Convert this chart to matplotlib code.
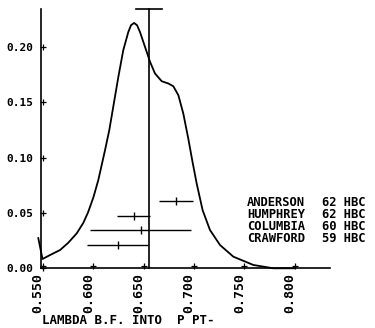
import matplotlib
matplotlib.use("Agg")
import matplotlib.pyplot as plt
import matplotlib.transforms as mtransforms

# distribution curve (lambda vs probability)
curve_x = [0.5453, 0.5495, 0.557, 0.5669, 0.575, 0.5835, 0.590, 0.5947, 0.600,
           0.6049, 0.6116, 0.6158, 0.6192, 0.6248, 0.6297, 0.6347, 0.6374, 0.6404,
           0.6434, 0.6463, 0.6513, 0.6563, 0.6612, 0.6679, 0.6744, 0.6794, 0.6844,
           0.6893, 0.6943, 0.6985, 0.7026, 0.7085, 0.7158, 0.7258, 0.739, 0.7589,
           0.7788, 0.800]
curve_y = [0.0273, 0.0084, 0.012, 0.0165, 0.023, 0.0316, 0.041, 0.0505, 0.064,
           0.0797, 0.1068, 0.1248, 0.1429, 0.1729, 0.197, 0.2135, 0.2196, 0.2217,
           0.2196, 0.2135, 0.200, 0.1865, 0.176, 0.169, 0.167, 0.1645, 0.1564,
           0.1399, 0.117, 0.096, 0.0766, 0.0525, 0.0346, 0.0210, 0.0105, 0.003,
           0.0, 0.0]

# measurements with horizontal error bars
meas_names = ["ANDERSON", "HUMPHREY", "COLUMBIA", "CRAWFORD"]
meas_counts = [62, 62, 60, 59]
meas_x = [0.682, 0.640, 0.647, 0.624]
meas_err = [0.0166, 0.0164, 0.050, 0.0306]
meas_y = [0.0607, 0.0475, 0.0346, 0.0215]

# vertical reference line with cap
ref_x = 0.655
ref_top = 0.234
ref_half = 0.013

xticks = [0.550, 0.600, 0.650, 0.700, 0.750, 0.800]
yticks = [0.00, 0.05, 0.10, 0.15, 0.20]

font = "DejaVu Sans Mono"

fig = plt.figure(figsize=(3.75, 3.28), dpi=100)
ax = fig.add_axes([40.7 / 375, 1 - 268.3 / 328, (330 - 40.7) / 375, (268.3 - 9.3) / 328])
x0, x1 = 0.5477, 0.8350
ax.set_xlim(x0, x1)
ax.set_ylim(0, 0.234)

ax.plot(curve_x, curve_y, color="black", lw=1.3, clip_on=False,
        solid_joinstyle="round")
ax.errorbar(meas_x, meas_y, xerr=meas_err, fmt="|", color="black",
            ms=6, mew=1.0, elinewidth=1.0, capsize=0)
ax.plot([ref_x, ref_x], [0, ref_top], color="black", lw=1.2, clip_on=False)
ax.plot([ref_x - ref_half, ref_x + ref_half], [ref_top, ref_top],
        color="black", lw=1.2, clip_on=False)

for s in ["top", "right"]:
    ax.spines[s].set_visible(False)
for s in ["left", "bottom"]:
    ax.spines[s].set_linewidth(1.2)

# plus-shaped tick marks just inside the axes
tr_y = mtransforms.offset_copy(ax.transData, fig, x=2.6, y=0, units="dots")
tr_x = mtransforms.offset_copy(ax.transData, fig, x=0, y=2.0, units="dots")
ax.plot([x0] * len(yticks), yticks, "+", color="black", ms=4.5, mew=0.9,
        transform=tr_y, clip_on=False)
ax.plot(xticks, [0] * len(xticks), "+", color="black", ms=4.5, mew=0.9,
        transform=tr_x, clip_on=False)

ax.set_xticks(xticks)
ax.set_xticklabels(["%.3f" % v for v in xticks], rotation=90, va="top",
                   fontfamily=font, fontweight="bold", fontsize=9.5)
ax.set_yticks(yticks)
ax.set_yticklabels(["%.2f" % v for v in yticks],
                   fontfamily=font, fontweight="bold", fontsize=8)
ax.tick_params(axis="both", length=0)
ax.tick_params(axis="x", pad=3.5)
ax.tick_params(axis="y", pad=5)

shift = mtransforms.ScaledTranslation(-0.05, 0, fig.dpi_scale_trans)
for lab in ax.get_xticklabels():
    lab.set_transform(lab.get_transform() + shift)

# legend block
rows = [202, 214, 226, 238.5]
for name, cnt, r in zip(meas_names, meas_counts, rows):
    fig.text(247 / 375, 1 - r / 328, name, ha="left", va="center",
             fontfamily=font, fontweight="bold", fontsize=8.7)
    fig.text(322 / 375, 1 - r / 328, "%d HBC" % cnt, ha="left", va="center",
             fontfamily=font, fontweight="bold", fontsize=8.7)

fig.text(42 / 375, 1 - 327 / 328, "LAMBDA B.F. INTO  P PT-", ha="left", va="bottom",
         fontfamily=font, fontweight="bold", fontsize=9)

fig.savefig("out.png", dpi=100)
